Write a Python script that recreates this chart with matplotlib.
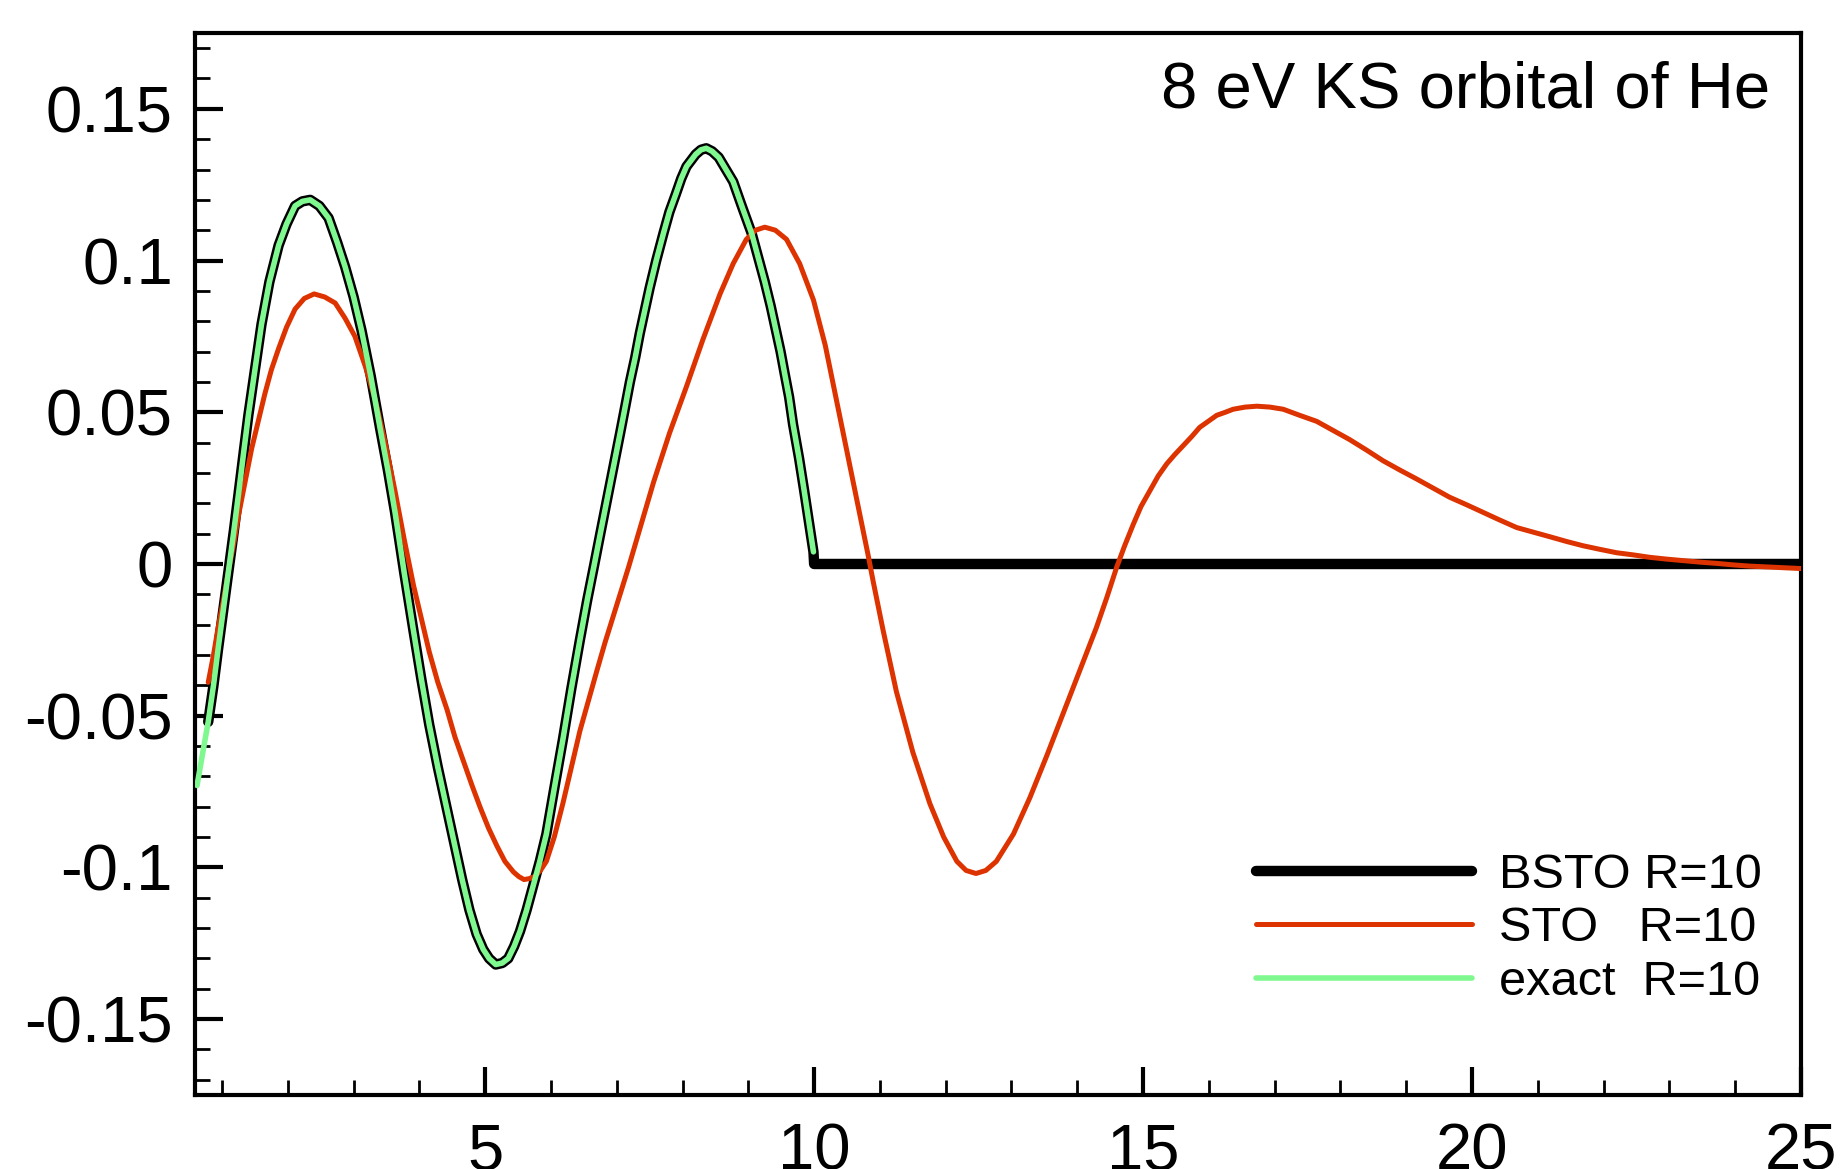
import matplotlib
matplotlib.use("Agg")
import matplotlib.pyplot as plt
from matplotlib.ticker import MultipleLocator

# ---------------------------------------------------------------
# DATA
# ---------------------------------------------------------------

# exact orbital, R=10 (ends at r=10)
exact_x = [0.62, 0.70, 0.79, 0.87, 0.94, 1.02, 1.10, 1.18, 1.25, 1.33,
           1.40, 1.50, 1.60, 1.72, 1.86, 1.98, 2.11, 2.22, 2.34, 2.48,
           2.62, 2.75, 2.87, 3.00, 3.12, 3.26, 3.40, 3.52, 3.63, 3.77,
           3.91, 4.03, 4.15, 4.28, 4.42, 4.54, 4.65, 4.76, 4.87, 4.97,
           5.06, 5.16, 5.26, 5.35, 5.44, 5.53, 5.63, 5.73, 5.83, 5.93,
           6.05, 6.18, 6.31, 6.44, 6.55, 6.66, 6.75, 6.85, 6.95, 7.05,
           7.13, 7.20, 7.28, 7.35, 7.43, 7.50, 7.60, 7.71, 7.80, 7.90,
           7.98, 8.06, 8.13, 8.20, 8.28, 8.36, 8.45, 8.55, 8.66, 8.77,
           8.90, 9.05, 9.15, 9.25, 9.34, 9.43, 9.49, 9.55, 9.62, 9.68,
           9.77, 9.85, 9.92, 9.99]
exact_y = [-0.073, -0.063, -0.052, -0.040, -0.028, -0.015, -0.002, 0.011, 0.023, 0.037,
           0.049, 0.064, 0.079, 0.093, 0.105, 0.112, 0.118, 0.1195, 0.120, 0.118,
           0.114, 0.106, 0.098, 0.088, 0.077, 0.062, 0.045, 0.031, 0.017, -0.003,
           -0.022, -0.038, -0.053, -0.067, -0.081, -0.093, -0.104, -0.114, -0.122, -0.127,
           -0.130, -0.132, -0.1315, -0.130, -0.126, -0.121, -0.114, -0.106, -0.098, -0.089,
           -0.074, -0.058, -0.041, -0.025, -0.012, 0.000, 0.010, 0.021, 0.032, 0.043,
           0.052, 0.060, 0.068, 0.076, 0.084, 0.091, 0.100, 0.109, 0.116, 0.122,
           0.127, 0.131, 0.133, 0.135, 0.1365, 0.137, 0.136, 0.134, 0.130, 0.126,
           0.118, 0.109, 0.101, 0.093, 0.085, 0.076, 0.070, 0.063, 0.055, 0.046,
           0.035, 0.024, 0.014, 0.004]

# BSTO basis, R=10: on top of the exact curve from r=0.8, then zero beyond the box
bsto_x = exact_x[2:] + [10.0, 25.0]
bsto_y = exact_y[2:] + [0.0, 0.0]

# plain STO basis, R=10
sto_x = [0.79, 0.87, 0.94, 1.02, 1.10, 1.18, 1.25, 1.35, 1.45, 1.55,
         1.65, 1.75, 1.86, 1.98, 2.11, 2.25, 2.40, 2.56, 2.72, 2.87,
         3.02, 3.18, 3.33, 3.48, 3.63, 3.77, 3.91, 4.03, 4.15, 4.28,
         4.42, 4.54, 4.67, 4.80, 4.92, 5.05, 5.18, 5.30, 5.43, 5.51,
         5.59, 5.67, 5.75, 5.84, 5.93, 6.05, 6.18, 6.31, 6.44, 6.57,
         6.70, 6.82, 6.95, 7.05, 7.18, 7.37, 7.56, 7.80, 8.06, 8.31,
         8.57, 8.77, 8.97, 9.11, 9.25, 9.41, 9.58, 9.78, 9.99, 10.17,
         10.34, 10.52, 10.70, 10.82, 10.90, 11.05, 11.25, 11.50, 11.76, 11.97,
         12.17, 12.31, 12.46, 12.61, 12.77, 13.03, 13.28, 13.54, 13.79, 14.04,
         14.29, 14.45, 14.60, 14.72, 14.85, 14.97, 15.10, 15.23, 15.36, 15.48,
         15.61, 15.74, 15.86, 15.99, 16.12, 16.25, 16.37, 16.55, 16.73, 16.93,
         17.13, 17.38, 17.64, 17.89, 18.14, 18.40, 18.65, 18.90, 19.16, 19.41,
         19.66, 19.92, 20.17, 20.42, 20.68, 20.93, 21.18, 21.44, 21.69, 21.95,
         22.20, 22.45, 22.70, 22.96, 23.21, 23.47, 23.72, 23.97, 24.22, 24.60, 25.0]
sto_y = [-0.039, -0.030, -0.021, -0.012, -0.002, 0.007, 0.016, 0.027, 0.038, 0.047,
         0.056, 0.064, 0.071, 0.078, 0.084, 0.0875, 0.089, 0.088, 0.086, 0.081,
         0.075, 0.065, 0.054, 0.040, 0.024, 0.008, -0.007, -0.018, -0.029, -0.039,
         -0.048, -0.057, -0.065, -0.073, -0.080, -0.087, -0.093, -0.098, -0.1015, -0.103,
         -0.104, -0.1037, -0.103, -0.101, -0.098, -0.090, -0.079, -0.067, -0.055, -0.045,
         -0.035, -0.026, -0.017, -0.010, -0.001, 0.013, 0.027, 0.043, 0.0585, 0.074,
         0.089, 0.099, 0.107, 0.110, 0.111, 0.110, 0.107, 0.099, 0.087, 0.072,
         0.054, 0.035, 0.016, 0.003, -0.006, -0.022, -0.042, -0.062, -0.079, -0.090,
         -0.098, -0.101, -0.102, -0.101, -0.098, -0.089, -0.077, -0.063, -0.049, -0.035,
         -0.021, -0.011, -0.001, 0.006, 0.013, 0.019, 0.024, 0.029, 0.033, 0.036,
         0.039, 0.042, 0.045, 0.047, 0.049, 0.050, 0.051, 0.0517, 0.052, 0.0517,
         0.051, 0.049, 0.047, 0.044, 0.041, 0.0375, 0.034, 0.031, 0.028, 0.025,
         0.022, 0.0195, 0.017, 0.0145, 0.012, 0.0105, 0.009, 0.0074, 0.006, 0.0048,
         0.0037, 0.003, 0.0022, 0.0016, 0.0011, 0.0006, 0.0002, -0.0003, -0.0007, -0.0011, -0.0015]

labels = ["BSTO R=10", "STO   R=10", "exact  R=10"]
title_text = "8 eV KS orbital of He"

# ---------------------------------------------------------------
# PLOT
# ---------------------------------------------------------------
plt.rcParams["font.family"] = ["Liberation Sans", "DejaVu Sans"]

fig = plt.figure(figsize=(18.42, 11.69), dpi=100)
ax = fig.add_axes([0.1059, 0.0633, 0.8718, 0.9085])

ax.plot(bsto_x, bsto_y, color="black", lw=7.5, label=labels[0],
        solid_capstyle="round", solid_joinstyle="round", zorder=2)
ax.plot(sto_x, sto_y, color="#dd3300", lw=3.6, label=labels[1],
        solid_capstyle="round", solid_joinstyle="round", zorder=3)
ax.plot(exact_x, exact_y, color="#80f890", lw=4.0, label=labels[2],
        solid_capstyle="round", solid_joinstyle="round", zorder=4)

ax.set_xlim(0.59, 25)
ax.set_ylim(-0.175, 0.175)

ax.xaxis.set_major_locator(MultipleLocator(5))
ax.xaxis.set_minor_locator(MultipleLocator(1))
ax.yaxis.set_minor_locator(MultipleLocator(0.01))
ax.set_yticks([-0.15, -0.1, -0.05, 0, 0.05, 0.1, 0.15])
ax.set_yticklabels(["-0.15", "-0.1", "-0.05", "0", "0.05", "0.1", "0.15"])

ax.tick_params(which="both", direction="in", top=False, right=False)
ax.tick_params(which="major", length=20, width=3, labelsize=47)
ax.tick_params(which="minor", length=10.5, width=2)
ax.tick_params(axis="x", which="major", pad=20)
ax.tick_params(axis="y", which="major", pad=16)

for s in ax.spines.values():
    s.set_linewidth(3)

ax.text(0.9807, 0.9294, title_text, transform=ax.transAxes,
        ha="right", va="baseline", fontsize=47)

ax.legend(loc="upper left", bbox_to_anchor=(0.6819, 0.2706),
          bbox_transform=fig.transFigure, frameon=False, fontsize=35,
          handlelength=4.45, handletextpad=0.55, labelspacing=0.18,
          borderpad=0, borderaxespad=0)

plt.savefig("out.png", dpi=100)
plt.close()
print("out.png saved")
